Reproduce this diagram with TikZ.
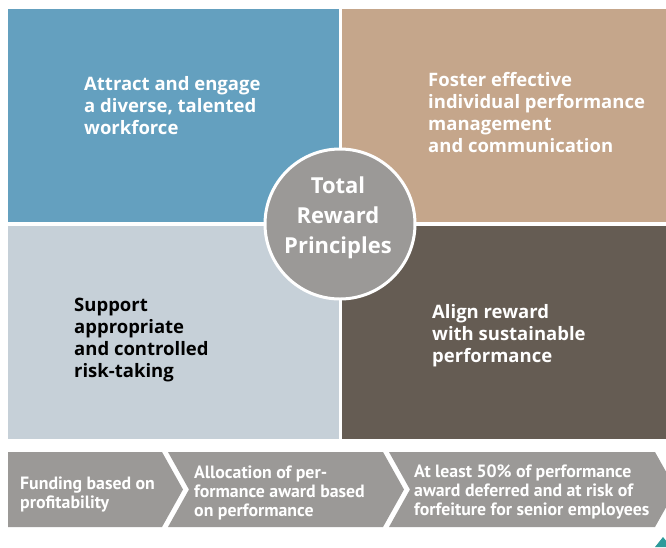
\documentclass[tikz,border=0pt]{standalone}
\usepackage{fontspec}
\setmainfont{Open Sans}
\newfontfamily\condfont{PT Sans}
\usetikzlibrary{positioning}
\definecolor{attractblue}{HTML}{64A0BF}
\definecolor{fostertan}{HTML}{C5A68B}
\definecolor{supportgrey}{HTML}{C6D0D8}
\definecolor{alignbrown}{HTML}{655C53}
\definecolor{hubgrey}{HTML}{9B9997}
\definecolor{chevgrey}{HTML}{9B9997}
\definecolor{markteal}{HTML}{2E9B9B}
\tikzset{
  % Quadrant styles
  panel/.style={rectangle, inner sep=0pt, outer sep=0pt, anchor=north west, minimum height=213pt, minimum width=#1},
  panel/.default={331pt},
  paneltext/.style={anchor=base west, align=left, inner sep=0pt, text=white, font=\bfseries\fontsize{18.5}{22}\selectfont},
  % Centre circle
  hub/.style={circle, fill=hubgrey, draw=white, line width=3pt, minimum size=150pt, inner sep=0pt},
  hubtext/.style={align=center, inner sep=0pt, text=white, font=\bfseries\fontsize{22}{30}\selectfont},
  % Process bar styles
  chevron/.style={fill=chevgrey},
  chevtext/.style={anchor=base west, align=left, inner sep=0pt, text=white, font=\condfont\bfseries\fontsize{17.8}{19}\selectfont},
}
\begin{document}
\begin{tikzpicture}[x=1pt, y=-1pt]
    \useasboundingbox (0,0) rectangle (666,547);

    % Quadrants
    \node[panel, fill=attractblue] (attract) at (8,9) {};
    \node[panel=326pt, fill=fostertan, right=3pt of attract] (foster) {};
    \node[panel, fill=supportgrey, below=4pt of attract] (support) {};
    \node[panel=326pt, fill=alignbrown, right=3pt of support] (align) {};

    % labels sit on the baseline of their last line
    \node[paneltext] (attractlbl) at (84,134) {Attract and engage\\a diverse, talented\\workforce};
    \node[paneltext] (fosterlbl) at (428,152) {Foster effective\\individual performance\\management\\and communication};
    \node[paneltext, text=black] (supportlbl) at (74,377) {Support\\appropriate\\and controlled\\risk-taking};
    \node[paneltext] (alignlbl) at (432,362) {Align reward\\with sustainable\\performance};

    % Centre
    \node[hub] (hub) at (340,224) {};
    \node[hubtext] (hublbl) at (338,218) {Total\\Reward\\Principles};

    % Process bar
    \fill[chevron] (8,452) -- (162,452) -- (183,489.5) -- (162,527) -- (8,527) -- cycle;
    \fill[chevron] (168,452) -- (383,452) -- (404,489.5) -- (383,527) -- (168,527) -- (189,489.5) -- cycle;
    \fill[chevron] (389,452) -- (655,452) -- (676,489.5) -- (655,527) -- (389,527) -- (410,489.5) -- cycle;

    \node[chevtext] (fundlbl) at (20,508) {Funding based on\\profitability};
    \node[chevtext] (alloclbl) at (194,516) {Allocation of per-\\formance award based\\on performance};
    \node[chevtext] (deferlbl) at (414,515) {At least 50\% of performance\\award deferred and at risk of\\forfeiture for senior employees};

    % Corner mark
    \fill[markteal] (655,547) -- (663,537) -- (671,547) -- cycle;
\end{tikzpicture}
\end{document}
